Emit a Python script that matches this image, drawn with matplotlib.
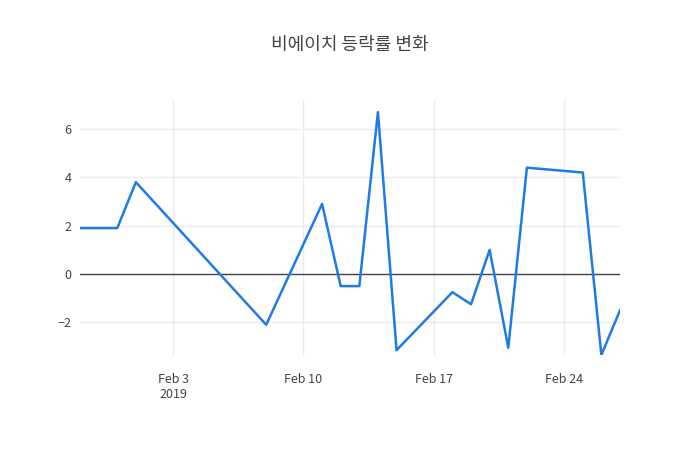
import numpy as np
import pandas as pd
import matplotlib
matplotlib.use("Agg")
import matplotlib.pyplot as plt
import matplotlib.dates as mdates

plt.rcParams['font.family'] = ['Noto Sans CJK KR', 'DejaVu Sans']

dates = pd.to_datetime([
    "2019-01-29", "2019-01-31", "2019-02-01", "2019-02-08", "2019-02-11",
    "2019-02-12", "2019-02-13", "2019-02-14", "2019-02-15", "2019-02-18",
    "2019-02-19", "2019-02-20", "2019-02-21", "2019-02-22", "2019-02-25",
    "2019-02-26", "2019-02-27",
])
change = [1.9, 1.9, 3.8, -2.1, 2.9, -0.5, -0.5, 6.7, -3.15, -0.75,
          -1.25, 1.0, -3.05, 4.4, 4.2, -3.35, -1.5]

fig = plt.figure(figsize=(7, 4.5), dpi=100)
ax = fig.add_axes([80 / 700, 1 - 355 / 450, 540 / 700, 255 / 450])

ax.plot(dates, change, color='#1f7be6', lw=1.8, zorder=3)
ax.axhline(0, color='#444444', lw=1, zorder=2)

ax.set_xlim(dates[0], dates[-1])
ax.set_ylim(-3.35, 7.2)
ax.set_yticks([-2, 0, 2, 4, 6])
ax.set_yticklabels(['−2', '0', '2', '4', '6'])

ticks = pd.to_datetime(["2019-02-03", "2019-02-10", "2019-02-17", "2019-02-24"])
ax.set_xticks(ticks)
ax.set_xticklabels(["Feb 3\n2019", "Feb 10", "Feb 17", "Feb 24"])

ax.grid(True, color='#ebebeb', lw=1)
ax.set_axisbelow(True)
for s in ax.spines.values():
    s.set_visible(False)
ax.tick_params(length=0, colors='#444444', labelsize=9)
ax.tick_params(axis='x', pad=13)
ax.tick_params(axis='y', pad=6)

fig.suptitle("비에이치 등락률 변화", y=1 - 45 / 450, va='center',
             fontsize=13, color='#444444')

fig.savefig("out.png", dpi=100)
